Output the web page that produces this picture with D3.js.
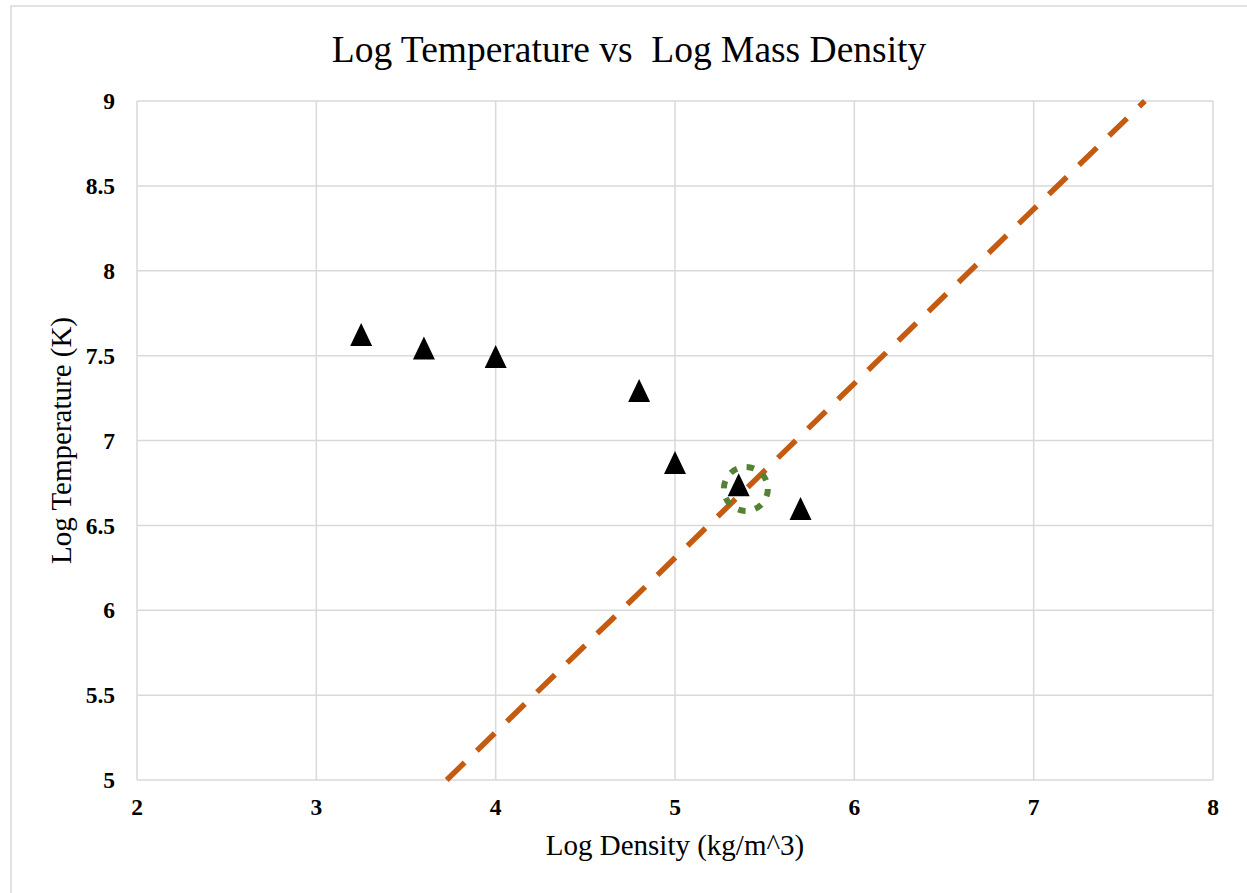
<html>
<head>
  <title>Log Temperature vs Log Mass Density</title>
  <script src="https://d3js.org/d3.v7.min.js"></script>
</head>
<style type="text/css">
body { margin: 0; background: #fff; }
.tick-label { font: bold 23.5px "Liberation Serif", "Times New Roman", serif; fill: #000; }
.axis-title { font: 29px "Liberation Serif", "Times New Roman", serif; fill: #000; }
.chart-title { font: 37.5px "Liberation Serif", "Times New Roman", serif; fill: #000; white-space: pre; }
.grid { stroke: #d9d9d9; stroke-width: 1.5px; }
</style>
<body>
<script>

// data
var densityVals = [3.25, 3.60, 4.00, 4.80, 5.00, 5.355, 5.70];
var tempVals    = [7.625, 7.545, 7.495, 7.295, 6.87, 6.74, 6.60];

// dashed orange line, endpoints (log density, log temperature)
var lineX = [3.727, 7.62];
var lineY = [5, 9];

// highlighted point (green dotted ring)
var ringX = [5.395];
var ringY = [6.715];

var xTicks = [2, 3, 4, 5, 6, 7, 8];
var yTicks = [5, 5.5, 6, 6.5, 7, 7.5, 8, 8.5, 9];

var width = 1247,
    height = 893,
    plot = {left: 137, right: 1213, top: 101, bottom: 780};

var svg = d3.select('body')
  .append('svg')
  .attr('width', width)
  .attr('height', height);

// chart area border
svg.append('rect')
  .attr('x', 11)
  .attr('y', 6)
  .attr('width', 1300)
  .attr('height', 1000)
  .attr('fill', 'white')
  .attr('stroke', '#d9d9d9')
  .attr('stroke-width', 1.5);

var x = d3.scaleLinear().domain([2, 8]).range([plot.left, plot.right]);
var y = d3.scaleLinear().domain([5, 9]).range([plot.bottom, plot.top]);

// gridlines
svg.selectAll('.vgrid')
  .data(xTicks)
  .enter().append('line')
  .attr('class', 'grid')
  .attr('x1', function(d) { return x(d); })
  .attr('x2', function(d) { return x(d); })
  .attr('y1', y(5))
  .attr('y2', y(9));

svg.selectAll('.hgrid')
  .data(yTicks)
  .enter().append('line')
  .attr('class', 'grid')
  .attr('x1', x(2))
  .attr('x2', x(8))
  .attr('y1', function(d) { return y(d); })
  .attr('y2', function(d) { return y(d); });

// tick labels
svg.selectAll('.xlab')
  .data(xTicks)
  .enter().append('text')
  .attr('class', 'tick-label')
  .attr('x', function(d) { return x(d); })
  .attr('y', 815)
  .attr('text-anchor', 'middle')
  .text(function(d) { return d; });

svg.selectAll('.ylab')
  .data(yTicks)
  .enter().append('text')
  .attr('class', 'tick-label')
  .attr('x', 115)
  .attr('y', function(d) { return y(d); })
  .attr('dy', '0.35em')
  .attr('text-anchor', 'end')
  .text(function(d) { return d; });

// dashed line
var lineData = lineX.map(function(d, i) { return [d, lineY[i]]; });
svg.append('path')
  .datum(lineData)
  .attr('d', d3.line()
    .x(function(d) { return x(d[0]); })
    .y(function(d) { return y(d[1]); }))
  .attr('fill', 'none')
  .attr('stroke', '#c55a11')
  .attr('stroke-width', 5.5)
  .attr('stroke-dasharray', '25,17');

// triangle markers
var tri = 'M0,-11.5L11,11.5L-11,11.5Z';
svg.selectAll('.pt')
  .data(densityVals)
  .enter().append('path')
  .attr('d', tri)
  .attr('transform', function(d, i) { return 'translate(' + x(d) + ',' + y(tempVals[i]) + ')'; })
  .attr('fill', '#000');

// green dotted ring
svg.selectAll('.ring')
  .data(ringX)
  .enter().append('circle')
  .attr('cx', function(d) { return x(d); })
  .attr('cy', function(d, i) { return y(ringY[i]); })
  .attr('r', 22)
  .attr('fill', 'none')
  .attr('stroke', '#548235')
  .attr('stroke-width', 6)
  .attr('stroke-dasharray', '7.5,9.8');

// titles
svg.append('text')
  .attr('class', 'chart-title')
  .attr('x', 629)
  .attr('y', 62)
  .attr('text-anchor', 'middle')
  .attr('xml:space', 'preserve')
  .text('Log Temperature vs  Log Mass Density');

svg.append('text')
  .attr('class', 'axis-title')
  .attr('x', (plot.left + plot.right) / 2)
  .attr('y', 855)
  .attr('text-anchor', 'middle')
  .text('Log Density (kg/m^3)');

svg.append('text')
  .attr('class', 'axis-title')
  .attr('transform', 'translate(71,' + (plot.top + plot.bottom) / 2 + ') rotate(-90)')
  .attr('text-anchor', 'middle')
  .text('Log Temperature (K)');

</script>
</body>
</html>
